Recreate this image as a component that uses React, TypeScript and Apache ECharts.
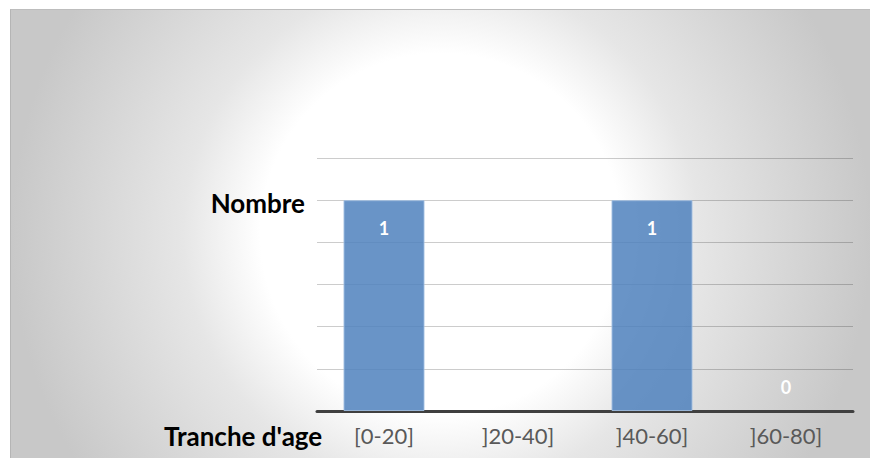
import React, { useEffect, useRef } from "react";
import * as echarts from "echarts";

// Age brackets and head counts per bracket
const categories: string[] = ["[0-20]", "]20-40]", "]40-60]", "]60-80]"];
const counts: (number | null)[] = [1, null, 1, 0];
const yMax = 1.2;
const yInterval = 0.2;

const FONT = "Lato, 'Open Sans', sans-serif";

export default function App() {
  const ref = useRef<HTMLDivElement>(null);

  useEffect(() => {
    if (!ref.current) return;
    const chart = echarts.init(ref.current, undefined, { renderer: "svg" });

    const barData = counts.map((v) => {
      if (v === null) return "-";
      if (v === 0) {
        // zero-height bar: put its label above the axis
        return {
          value: v,
          itemStyle: { borderWidth: 0 },
          label: { position: "top", distance: 15 },
        };
      }
      return { value: v };
    });

    chart.setOption({
      animation: false,
      backgroundColor: "transparent",
      grid: { left: 306, right: 17, top: 148, bottom: 47 },
      xAxis: {
        type: "category",
        data: categories,
        axisLine: { show: true, lineStyle: { color: "#404040", width: 3 } },
        axisTick: { show: false },
        axisLabel: {
          color: "#595959",
          fontFamily: FONT,
          fontSize: 22,
          margin: 13,
        },
      },
      yAxis: {
        type: "value",
        min: 0,
        max: yMax,
        interval: yInterval,
        axisLine: { show: false },
        axisTick: { show: false },
        axisLabel: { show: false },
        splitLine: { lineStyle: { color: "rgba(0,0,0,0.2)", width: 1 } },
      },
      series: [
        {
          type: "bar",
          data: barData,
          barWidth: 81,
          itemStyle: {
            color: "rgba(79,129,189,0.85)",
            borderColor: "rgba(160,190,225,0.9)",
            borderWidth: 1,
          },
          label: {
            show: true,
            position: "insideTop",
            distance: 19,
            color: "#ffffff",
            fontFamily: FONT,
            fontWeight: "bold",
            fontSize: 18,
          },
        },
      ],
      graphic: [
        {
          type: "text",
          right: 860 - 295,
          top: 180,
          style: {
            text: "Nombre",
            fill: "#000000",
            font: `bold 26px ${FONT}`,
          },
        },
        {
          type: "text",
          left: 153,
          top: 413,
          style: {
            text: "Tranche d'age",
            fill: "#000000",
            font: `bold 26px ${FONT}`,
          },
        },
      ],
    });

    return () => chart.dispose();
  }, []);

  return (
    <div
      ref={ref}
      style={{
        position: "absolute",
        left: 10,
        top: 9,
        width: 860,
        height: 449,
        boxSizing: "border-box",
        borderTop: "1px solid #bdbdbd",
        borderLeft: "1px solid #b5b5b5",
        background:
          "radial-gradient(circle 430px at 430px 224px, #ffffff 0%, #ffffff 42%, #e6e6e6 60%, #c8c8c8 100%)",
      }}
    />
  );
}
